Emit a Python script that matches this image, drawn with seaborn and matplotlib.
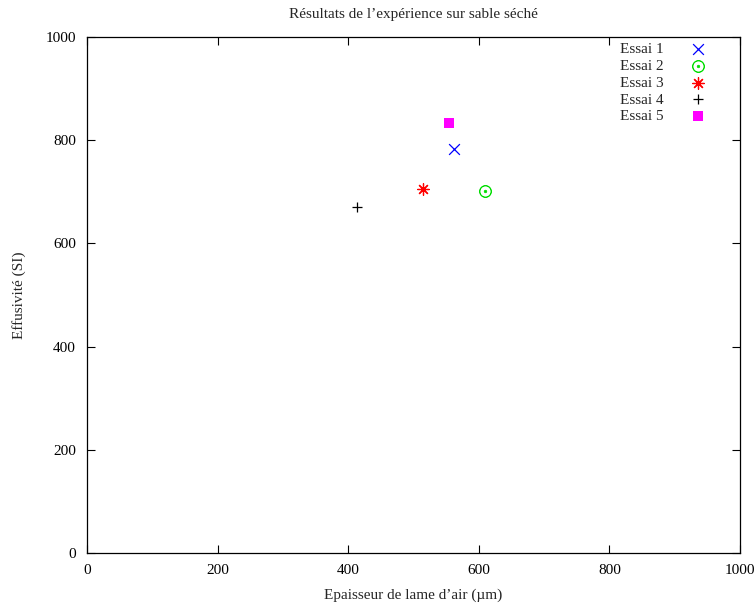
import matplotlib
matplotlib.use("Agg")
import matplotlib.pyplot as plt
import seaborn as sns
import pandas as pd

# values
essais = ["Essai 1", "Essai 2", "Essai 3", "Essai 4", "Essai 5"]
epaisseur = [562, 609, 515, 413, 554]
effusivite = [783, 701, 705, 670, 834]

colors = ["#0000ff", "#00dd00", "#ff0000", "#000000", "#ff00ff"]
markers = ["x", "$\\odot$", (8, 2, 0), "+", "s"]
sizes = [60, 75, 70, 60, 55]

sns.set_theme(style="white")
plt.rcParams["font.family"] = ["Liberation Serif", "DejaVu Serif"]
plt.rcParams["mathtext.fontset"] = "cm"

df = pd.DataFrame({"essai": essais, "x": epaisseur, "y": effusivite})

fig = plt.figure(figsize=(7.56, 6.05), dpi=100)
ax = fig.add_axes([0.1151, 0.0860, 0.8637, 0.8528])

for i, name in enumerate(essais):
    sub = df[df["essai"] == name]
    if markers[i] == "s":
        kw = dict(linewidths=0)
    elif isinstance(markers[i], str) and markers[i].startswith("$"):
        # mathtext marker: thicken the thin glyph a little
        kw = dict(linewidths=0.5, edgecolor=colors[i])
    else:
        kw = dict(linewidths=0.9)
    sns.scatterplot(
        data=sub, x="x", y="y", ax=ax,
        marker=markers[i], color=colors[i], s=sizes[i],
        label=name, **kw,
    )

ax.set_xlim(0, 1000)
ax.set_ylim(0, 1000)
ax.set_xticks(range(0, 1001, 200))
ax.set_yticks(range(0, 1001, 200))
ax.tick_params(direction="in", length=6, width=0.8, bottom=True, left=True,
               top=True, right=True, labelsize=11, colors="black", pad=8)
for sp in ax.spines.values():
    sp.set_color("black")
    sp.set_linewidth(0.9)

ax.set_xlabel("Epaisseur de lame d\u2019air (\u00b5m)", fontsize=11, labelpad=8)
ax.set_ylabel("Effusivit\u00e9 (SI)", fontsize=11, labelpad=14)
ax.set_title("R\u00e9sultats de l\u2019exp\u00e9rience sur sable s\u00e9ch\u00e9",
             fontsize=11, pad=14)

leg = ax.legend(loc="upper right", bbox_to_anchor=(0.975, 1.01),
                frameon=False, markerfirst=False,
                fontsize=11, labelspacing=0.2, handletextpad=1.2,
                borderaxespad=0.3)

fig.savefig("out.png", dpi=100)
